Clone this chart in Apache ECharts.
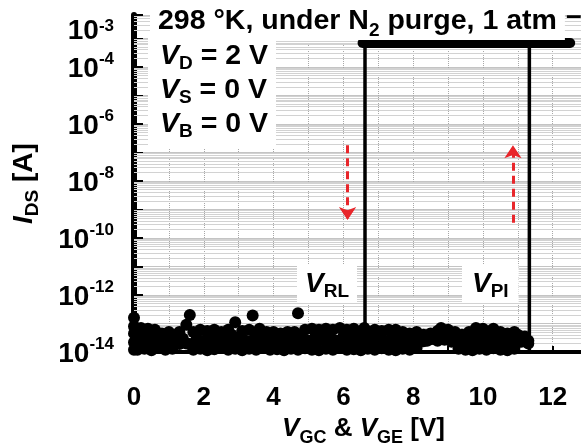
<!DOCTYPE html>
<html>
<head>
<meta charset="utf-8">
<script src="https://cdn.jsdelivr.net/npm/echarts@6/dist/echarts.min.js"></script>
<style>
  html, body { margin: 0; padding: 0; background: #fff; }
  #main { width: 581px; height: 448px; }
</style>
</head>
<body>
<div id="main"></div>
<script>
var FONT = "'Liberation Sans', Arial, sans-serif";

// off-state noise, [V, I in units of 1e-14 A]
var sweepUp = [
  [0.0,16],[0.1,5],[0.2,7],[0.3,3],[0.4,6.5],[0.5,4],[0.6,6],[0.7,2.5],[0.8,4.5],[0.9,3],
  [1.0,5],[1.1,2.2],[1.2,4],[1.3,5],[1.4,3],[1.5,9],[1.6,20],[1.7,5],[1.8,3],[1.9,6],
  [2.0,2.5],[2.1,5.5],[2.2,3.5],[2.3,6],[2.4,2.8],[2.5,5],[2.6,3],[2.7,6],[2.8,4],[2.9,11],
  [3.0,3],[3.1,5.5],[3.2,2.5],[3.3,6],[3.4,19],[3.5,4],[3.6,6.5],[3.7,3],[3.8,5],[3.9,2.5],
  [4.0,5],[4.1,3.5],[4.2,4.5],[4.3,2.5],[4.4,5],[4.5,3],[4.6,5],[4.7,23],[4.8,3],[4.9,6],
  [5.0,2.5],[5.1,6.5],[5.2,3.5],[5.3,6],[5.4,3],[5.5,6.5],[5.6,4],[5.7,6],[5.8,2.5],[5.9,7],
  [6.0,3.5],[6.1,6],[6.2,3],[6.3,6.5],[6.4,4],[6.5,5],[6.6,7],[6.7,3],[6.8,5],[6.9,6],
  [7.0,3.5],[7.1,5.5],[7.2,2.5],[7.3,6],[7.4,4],[7.5,6],[7.6,3],[7.7,5],[7.8,2.5],[7.9,4.5],
  [8.0,3],[8.1,5],[8.2,3.5],[8.3,4],[8.4,2.5],[8.5,4.5],[8.6,3],[8.7,5.5],[8.8,7],[8.9,4],
  [9.0,6],[9.1,3],[9.2,5],[9.3,2.5],[9.4,4],[9.5,3.5],[9.6,5],[9.7,2.5],[9.8,7],[9.9,4],
  [10.0,6.5],[10.1,3],[10.2,5.5],[10.3,6.5],[10.4,3.5],[10.5,5],[10.6,2.5],[10.7,4.5],[10.8,3],[10.9,5],
  [11.0,4],[11.1,2.5],[11.2,3.5],[11.3,2]
];
var sweepDown = [
  [0,1.2],[0,2.2],[0,4.5],[0,8],
  [0.1,1.2],[0.3,1.3],[0.5,1.15],[0.7,1.4],[0.9,1.2],[1.1,1.3],[1.3,1.9],[1.5,2],[1.7,1.2],[1.9,1.3],
  [2.1,1.15],[2.3,1.25],[2.5,1.4],[2.7,1.2],[2.9,1.3],[3.1,1.15],[3.3,1.3],[3.5,1.2],[3.7,1.4],[3.9,1.2],
  [4.1,1.25],[4.3,1.15],[4.5,1.3],[4.7,1.2],[4.9,1.35],[5.1,1.2],[5.3,1.15],[5.5,1.3],[5.7,1.2],[5.9,1.4],
  [6.1,1.2],[6.3,1.25],[6.5,1.15],[6.7,1.3],[6.9,1.2],[7.1,1.35],[7.3,1.2],[7.5,1.15],[7.7,1.3],[7.9,1.2],
  [8.1,1.4],[8.3,2.4],[8.5,2.8],[8.7,2.5],[8.9,2.7],[9.1,2.3],[9.3,1.3],[9.5,1.2],[9.7,1.15],[9.9,1.3],
  [10.1,1.2],[10.3,1.35],[10.5,1.2],[10.7,1.15],[10.9,1.3],[11.1,2.3],[11.3,2.5]
];
var repeatSweep = [
  [0.2,2.4],[0.4,1.8],[0.6,2.6],[0.8,1.9],[1.0,2.8],[1.2,2.2],[1.4,2.5],[1.6,1.9],[1.8,2.7],[2.0,1.8],
  [2.2,2.5],[2.4,1.9],[2.6,2.8],[2.8,2.1],[3.0,2.4],[3.2,1.8],[3.4,2.6],[3.6,2.0],[3.8,2.8],[4.0,1.9],
  [4.2,2.4],[4.4,1.8],[4.6,2.7],[4.8,2.0],[5.0,2.5],[5.2,1.9],[5.4,2.8],[5.6,2.1],[5.8,2.4],[6.0,1.8],
  [6.2,2.6],[6.4,2.0],[6.6,2.7],[6.8,1.9],[7.0,2.5],[7.2,1.8],[7.4,2.6],[7.6,2.1],[7.8,2.8],[8.0,1.9],
  [8.2,3.0],[8.4,3.2],[8.6,2.9],[8.8,3.3],[9.0,3.0],[9.2,2.6],[9.4,1.9],[9.6,2.5],[9.8,1.8],[10.0,2.7],
  [10.2,2.0],[10.4,2.6],[10.6,1.9],[10.8,2.5],[11.0,2.2],[11.2,2.8]
];

// switching loop
var onCurrent = 6.9e-4;
var offCurrent = 1e-14;
var onStart = 6.55, onEnd = 12.5;
var vRL = 6.62;   // turn-on edge
var vPI = 11.33;  // turn-off edge

// red arrows [x, yFrom, yTo]
var arrowDown = [6.12, 1.8e-7, 4.3e-10];
var arrowUp = [10.86, 3.4e-10, 1.8e-7];

var yLabelExps = [-3, -4, -6, -8, -10, -12, -14];
var xMax = 12.81;
var yMin = 1e-14, yMax = 6.6e-3;

function amps(p) { return [p[0], p[1] * 1e-14]; }

// log minor grid lines (2..9 x 10^n), drawn across the plot
var minorGrid = [];
for (var e = -14; e <= -3; e++) {
  for (var m = 2; m <= 9; m++) {
    var v = m * Math.pow(10, e);
    if (v < yMax) minorGrid.push({ coords: [[0, v], [xMax, v]] });
  }
}

var chart = echarts.init(document.getElementById('main'));

var black = '#000';

function sub(size) {
  return { fontFamily: FONT, fontSize: size, fontWeight: 'bold', fill: black, color: black, verticalAlign: 'bottom', lineHeight: 36 };
}
function txt(size, italic) {
  return { fontFamily: FONT, fontSize: size, fontWeight: 'bold', fontStyle: italic ? 'italic' : 'normal', fill: black, color: black, lineHeight: 36 };
}
function dots(data) {
  return {
    type: 'scatter', z: 4, symbolSize: 12,
    itemStyle: { color: black, opacity: 1 },
    data: data.map(amps)
  };
}

var option = {
  animation: false,
  grid: { left: 134, right: 0, top: 15, bottom: 96, outerBoundsMode: 'none', containLabel: false },
  xAxis: {
    type: 'value',
    min: 0,
    max: xMax,
    interval: 1,
    name: '{v|V}{s|GC}{t| & }{v|V}{s|GE}{t| [V]}',
    nameLocation: 'middle',
    nameGap: 56,
    nameTextStyle: { padding: [0, 0, 0, 12], rich: { v: txt(26, true), s: sub(18), t: txt(26) } },
    axisLine: { show: true, lineStyle: { color: black, width: 4 } },
    axisTick: { show: true, inside: true, length: 6, lineStyle: { color: black, width: 2 } },
    axisLabel: {
      margin: 33,
      fontFamily: FONT, fontSize: 26, fontWeight: 'bold', color: black,
      showMaxLabel: false,
      formatter: function (v) { return (Math.abs(v % 2) < 1e-9) ? String(v) : ''; }
    },
    splitLine: { show: true, lineStyle: { color: '#a8a8a8', type: [1, 1], width: 1 } }
  },
  yAxis: {
    type: 'log',
    min: yMin,
    max: yMax,
    interval: 1,
    name: '{i|I}{s|DS}{t| [A]}',
    nameLocation: 'middle',
    nameRotate: 90,
    nameGap: 92,
    nameTextStyle: { rich: { i: txt(28, true), s: sub(19), t: txt(28) } },
    axisLine: { show: true, lineStyle: { color: black, width: 6 } },
    axisTick: { show: true, inside: true, length: 9, lineStyle: { color: black, width: 2 } },
    axisLabel: {
      margin: 20,
      formatter: function (v) {
        var lg = Math.log10(v);
        var e = Math.round(lg);
        if (Math.abs(lg - e) > 1e-6 || yLabelExps.indexOf(e) < 0) return '';
        return e === -3 ? '{m3|10}{e3|' + e + '}' : '{m|10}{e|' + e + '}';
      },
      rich: {
        m: { fontFamily: FONT, fontSize: 28, fontWeight: 'bold', color: black, padding: [4, 0, 0, 0] },
        e: { fontFamily: FONT, fontSize: 17, fontWeight: 'bold', color: black, verticalAlign: 'top' },
        m3: { fontFamily: FONT, fontSize: 28, fontWeight: 'bold', color: black, padding: [0, 0, 14, 0] },
        e3: { fontFamily: FONT, fontSize: 17, fontWeight: 'bold', color: black, verticalAlign: 'top', padding: [0, 0, 14, 0] }
      }
    },
    splitLine: { show: true, lineStyle: { color: '#c4c4c4', type: 'solid', width: 1 } }
  },
  series: [
    {
      type: 'lines', coordinateSystem: 'cartesian2d', z: 1, silent: true,
      symbol: 'none',
      lineStyle: { color: '#d2d2d2', type: 'solid', width: 1, opacity: 1 },
      data: minorGrid
    },
    {
      type: 'line', z: 3, symbol: 'none',
      data: [[vRL, offCurrent], [vRL, onCurrent]],
      lineStyle: { color: black, width: 3.5 }
    },
    {
      type: 'line', z: 3, symbol: 'none',
      data: [[vPI, onCurrent], [vPI, offCurrent]],
      lineStyle: { color: black, width: 3.5 }
    },
    {
      type: 'line', z: 3, symbol: 'none',
      data: [[onStart, onCurrent], [onEnd, onCurrent]],
      lineStyle: { color: black, width: 10, cap: 'round' }
    },
    dots(sweepDown),
    dots(repeatSweep),
    dots(sweepUp),
    {
      type: 'lines', coordinateSystem: 'cartesian2d', z: 5,
      symbol: ['none', 'arrow'], symbolSize: 13,
      lineStyle: { color: '#e8262b', width: 3, type: [8, 5], opacity: 1 },
      data: [
        { coords: [[arrowDown[0], arrowDown[1]], [arrowDown[0], arrowDown[2]]] },
        { coords: [[arrowUp[0], arrowUp[1]], [arrowUp[0], arrowUp[2]]] }
      ]
    }
  ],
  graphic: [
    {
      type: 'text', x: 150, y: 0, z: 10,
      style: {
        text: '{t|298 °K, under N}{s|2}{t| purge, 1 atm}',
        backgroundColor: '#fff', padding: [2, 8, 0, 8],
        rich: {
          t: { fontFamily: FONT, fontSize: 28.5, fontWeight: 'bold', fill: black, lineHeight: 34 },
          s: { fontFamily: FONT, fontSize: 19, fontWeight: 'bold', fill: black, verticalAlign: 'bottom', lineHeight: 38 }
        }
      }
    },
    {
      type: 'text', x: 566, y: 2, z: 10,
      style: { text: '–', fontFamily: FONT, fontSize: 28, fontWeight: 'bold', fill: black }
    },
    {
      type: 'text', x: 148, y: 33, z: 10,
      style: {
        text: '{v|V}{s|D}{t| = 2 V}\n{v|V}{s|S}{t| = 0 V}\n{v|V}{s|B}{t| = 0 V}',
        backgroundColor: '#fff', padding: [6, 8, 8, 12],
        rich: {
          v: { fontFamily: FONT, fontSize: 28.5, fontWeight: 'bold', fontStyle: 'italic', fill: black, lineHeight: 34 },
          s: { fontFamily: FONT, fontSize: 19, fontWeight: 'bold', fill: black, verticalAlign: 'bottom', lineHeight: 34 },
          t: { fontFamily: FONT, fontSize: 28.5, fontWeight: 'bold', fill: black, lineHeight: 34 }
        }
      }
    },
    {
      type: 'text', x: 297, y: 265, z: 10,
      style: {
        text: '{v|V}{s|RL}',
        backgroundColor: '#fff', padding: [2, 8, 2, 8],
        rich: {
          v: { fontFamily: FONT, fontSize: 28, fontWeight: 'bold', fontStyle: 'italic', fill: black, lineHeight: 34 },
          s: { fontFamily: FONT, fontSize: 19, fontWeight: 'bold', fill: black, verticalAlign: 'bottom', lineHeight: 34 }
        }
      }
    },
    {
      type: 'text', x: 462, y: 265, z: 10,
      style: {
        text: '{v|V}{s|PI}',
        backgroundColor: '#fff', padding: [2, 10, 2, 10],
        rich: {
          v: { fontFamily: FONT, fontSize: 28, fontWeight: 'bold', fontStyle: 'italic', fill: black, lineHeight: 34 },
          s: { fontFamily: FONT, fontSize: 19, fontWeight: 'bold', fill: black, verticalAlign: 'bottom', lineHeight: 34 }
        }
      }
    }
  ]
};

chart.setOption(option);
</script>
</body>
</html>
